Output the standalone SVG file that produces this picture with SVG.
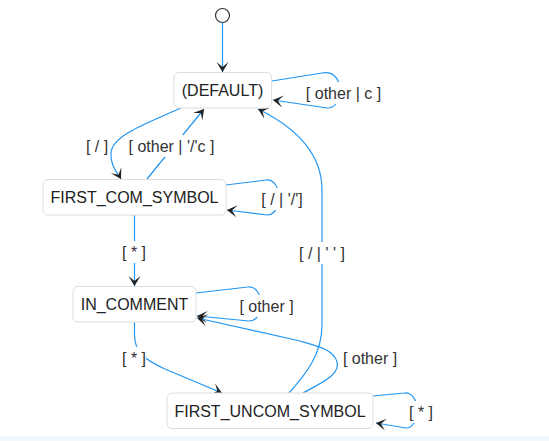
<svg xmlns="http://www.w3.org/2000/svg" width="549" height="441" viewBox="0 0 549 441">
<style>
.node rect{fill:#ffffff;stroke:#dddddd;stroke-width:1}
.node text{font-family:"Liberation Sans",Arial,sans-serif;font-size:16px;fill:#222222;text-anchor:middle}
.edge{fill:none;stroke:#2196f3;stroke-width:1.2;marker-end:url(#barb)}
.lbl rect{fill:#ffffff}
.lbl text{font-family:"Liberation Sans",Arial,sans-serif;font-size:16px;fill:#333333;text-anchor:middle}
</style>
<defs>
<marker id="barb" viewBox="0 0 20 14" refX="19" refY="7" markerWidth="20" markerHeight="14" markerUnits="userSpaceOnUse" orient="auto">
<path d="M19,7 L9,13 L14,7 L9,1 Z" fill="#222222"/>
</marker>
</defs>
<rect x="0" y="0" width="549" height="441" fill="#ffffff"/>
<rect x="0" y="436" width="549" height="5" fill="#f1f7fb"/>
<g id="connectors">
<path class="edge" d="M222.5,22.5 L222.5,72"/>
<path class="edge" d="M272,81 L322,73 C334,71 340,80 340,90 C340,100 336,108 327,108 L273,100"/>
<path class="edge" d="M181,108 C150,122 112,135 111,153 C110,165 117,172 121,179"/>
<path class="edge" d="M147,179 L204,109"/>
<path class="edge" d="M226,185 L266,180 C274,179 279,188 279,197 C279,206 275,215 267,215 L227,210"/>
<path class="edge" d="M134.5,215 L134.5,286"/>
<path class="edge" d="M196,293 L248,287 C256,286 261,295 261,304 C261,313 257,321 249,321 L197,316"/>
<path class="edge" d="M134.5,322 L134.5,335 C134.5,352 145,360 165,369 L222,393"/>
<path class="edge" d="M303,393 C325,381 340,374 337,362 C334,350 318,346 300,341 L197,318"/>
<path class="edge" d="M289,393 C305,375 322,355 322,325 L322,190 C322,160 305,132 258,109"/>
<path class="edge" d="M373,396 L404,393 C412,392 417,400 417,410 C417,420 413,428 406,428 L376,423"/>
<g class="lbl"><rect x="306" y="82" width="75" height="22"/><text x="343.5" y="98.5">[ other | c ]</text></g>
<g class="lbl"><rect x="86" y="135" width="22" height="22"/><text x="97" y="151.5">[ / ]</text></g>
<g class="lbl"><rect x="129" y="135" width="85" height="22"/><text x="171.5" y="151.5">[ other | '/'c ]</text></g>
<g class="lbl"><rect x="262" y="188" width="41" height="22"/><text x="282" y="204.5">[ / | '/']</text></g>
<g class="lbl"><rect x="122" y="241" width="24" height="22"/><text x="134" y="257.5">[ * ]</text></g>
<g class="lbl"><rect x="299" y="242" width="46" height="22"/><text x="322" y="258.5">[ / | ' ' ]</text></g>
<g class="lbl"><rect x="239" y="295" width="55" height="22"/><text x="266.5" y="311.5">[ other ]</text></g>
<g class="lbl"><rect x="122" y="347" width="24" height="22"/><text x="134" y="363.5">[ * ]</text></g>
<g class="lbl"><rect x="343" y="347" width="55" height="22"/><text x="370" y="363.5">[ other ]</text></g>
<g class="lbl"><rect x="409" y="401" width="24" height="22"/><text x="421" y="417.5">[ * ]</text></g>
</g>
<g id="start"><circle cx="222.5" cy="15.5" r="7" fill="#ffffff" stroke="#333333" stroke-width="1.2"/></g>
<g id="DEFAULT" class="node"><rect x="174" y="72.5" width="97.5" height="35.5" rx="5"/><text x="222.5" y="96">(DEFAULT)</text></g>
<g id="FIRST_COM_SYMBOL" class="node"><rect x="43" y="179.5" width="183" height="35.5" rx="5"/><text x="134.5" y="203">FIRST_COM_SYMBOL</text></g>
<g id="IN_COMMENT" class="node"><rect x="73" y="286.5" width="123" height="35.5" rx="5"/><text x="134.5" y="310">IN_COMMENT</text></g>
<g id="FIRST_UNCOM_SYMBOL" class="node"><rect x="167" y="393" width="206" height="35.5" rx="5"/><text x="270" y="416.5">FIRST_UNCOM_SYMBOL</text></g>
</svg>
